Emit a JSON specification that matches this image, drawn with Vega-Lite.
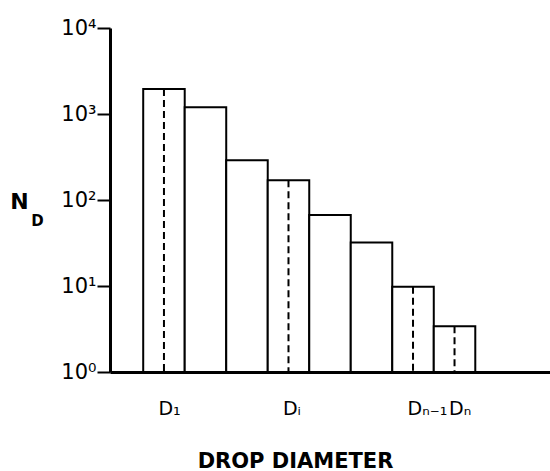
{
  "$schema": "https://vega.github.io/schema/vega-lite/v6.json",
  "width": 440,
  "height": 344,
  "autosize": {"type": "none"},
  "padding": {"left": 110, "top": 28, "right": 0, "bottom": 99},
  "background": "white",
  "config": {
    "view": {"stroke": null},
    "font": "DejaVu Sans",
    "axis": {"grid": false, "labelColor": "black", "titleColor": "black", "domainColor": "black", "tickColor": "black"}
  },
  "data": {
    "values": [
      {"bin": 1, "x0": 0, "x1": 1, "mid": 0.5, "n": 1950, "dashed": true},
      {"bin": 2, "x0": 1, "x1": 2, "mid": 1.5, "n": 1200, "dashed": false},
      {"bin": 3, "x0": 2, "x1": 3, "mid": 2.5, "n": 290, "dashed": false},
      {"bin": 4, "x0": 3, "x1": 4, "mid": 3.5, "n": 170, "dashed": true},
      {"bin": 5, "x0": 4, "x1": 5, "mid": 4.5, "n": 67, "dashed": false},
      {"bin": 6, "x0": 5, "x1": 6, "mid": 5.5, "n": 32, "dashed": false},
      {"bin": 7, "x0": 6, "x1": 7, "mid": 6.5, "n": 9.8, "dashed": true},
      {"bin": 8, "x0": 7, "x1": 8, "mid": 7.5, "n": 3.4, "dashed": true}
    ]
  },
  "layer": [
    {
      "mark": {"type": "rect", "fill": "white", "stroke": "black", "strokeWidth": 2},
      "encoding": {
        "x": {
          "field": "x0", "type": "quantitative",
          "scale": {"domain": [-0.8, 9.8], "nice": false, "zero": false},
          "axis": {
            "title": "DROP DIAMETER",
            "values": [0.5, 3.5, 6.5, 7.5],
            "labelExpr": "datum.value == 0.5 ? 'D₁' : datum.value == 3.5 ? 'Dᵢ' : datum.value == 6.5 ? 'Dₙ₋₁' : 'Dₙ'",
            "ticks": false,
            "tickSize": 0,
            "domainWidth": 3,
            "labelFontSize": 19,
            "labelAlign": "left",
            "labelOffset": -6,
            "labelBaseline": "top",
            "labelPadding": 27,
            "labelFlush": false,
            "labelOverlap": false,
            "titleFontSize": 21,
            "titleFontWeight": "bold",
            "titleX": 185,
            "titleY": 95,
            "titleAlign": "center",
            "titleBaseline": "alphabetic"
          }
        },
        "x2": {"field": "x1"},
        "y": {
          "field": "n", "type": "quantitative",
          "scale": {"type": "log", "domain": [1, 10000], "nice": false},
          "axis": {
            "title": "N",
            "values": [1, 10, 100, 1000, 10000],
            "labelExpr": "datum.value == 1 ? '10⁰' : datum.value == 10 ? '10¹' : datum.value == 100 ? '10²' : datum.value == 1000 ? '10³' : '10⁴'",
            "domainWidth": 3,
            "tickSize": 13,
            "tickWidth": 2,
            "labelFontSize": 21,
            "labelPadding": 1,
            "labelFlush": false,
            "labelOverlap": false,
            "titleFontSize": 22,
            "titleFontWeight": "bold",
            "titleAngle": 0,
            "titleX": -91,
            "titleY": 180,
            "titleAlign": "center",
            "titleBaseline": "alphabetic"
          }
        },
        "y2": {"datum": 1}
      }
    },
    {
      "transform": [{"filter": "datum.dashed"}],
      "mark": {"type": "rule", "stroke": "black", "strokeWidth": 2, "strokeDash": [7, 4]},
      "encoding": {
        "x": {"field": "mid", "type": "quantitative", "scale": {"domain": [-0.8, 9.8], "nice": false, "zero": false}, "axis": null},
        "y": {
          "field": "n", "type": "quantitative",
          "scale": {"type": "log", "domain": [1, 10000], "nice": false},
          "axis": {
            "orient": "left",
            "title": "D",
            "domain": false,
            "ticks": false,
            "labels": false,
            "titleFontSize": 15,
            "titleFontWeight": "bold",
            "titleAngle": 0,
            "titleX": -73,
            "titleY": 197,
            "titleAlign": "center",
            "titleBaseline": "alphabetic"
          }
        },
        "y2": {"datum": 1}
      }
    }
  ],
  "resolve": {"axis": {"x": "independent", "y": "independent"}}
}
